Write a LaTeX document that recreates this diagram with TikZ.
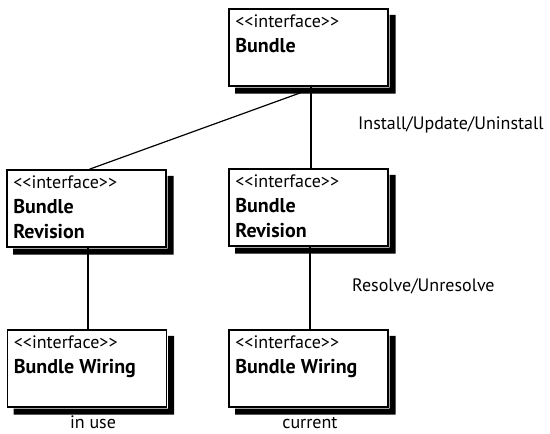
\documentclass[tikz,border=0pt]{standalone}
\usepackage{fontspec}
\setmainfont{PT Sans}
\newcommand{\bfbig}{\fontsize{20}{25}\selectfont\bfseries}
\begin{document}
\begin{tikzpicture}[x=1pt,y=1pt,
  ibox/.style={draw=black,line width=1.6pt,fill=white,rectangle,minimum width=159pt,minimum height=77pt,inner sep=0pt},
  shadefill/.style={fill=black,draw=none},
  itext/.style={anchor=north west,align=left,inner sep=0pt,font=\fontsize{18}{25}\selectfont},
  lbl/.style={font=\fontsize{18}{20}\selectfont,inner sep=0pt},
  conn/.style={line width=1.2pt}]
\useasboundingbox (0,0) rectangle (550,434);
% boxes
\node[ibox] (bundle) at (308.5,386.5) {};
\node[ibox] (lrev) at (86.5,225.5) {};
\node[ibox] (rrev) at (308.5,226.5) {};
\node[ibox] (lwir) at (87,65.5) {};
\node[ibox] (rwir) at (308.5,65.5) {};
% connectors
\draw[conn] ([xshift=-8pt,yshift=-6pt]bundle.south) -- ([xshift=3pt]lrev.north);
\draw[conn] ([xshift=2.5pt]bundle.south) -- ([xshift=2.5pt]rrev.north);
\draw[conn] ([xshift=1.5pt]lrev.south) -- ([xshift=1pt]lwir.north);
\draw[conn] ([xshift=1.5pt]rrev.south) -- ([xshift=1.5pt]rwir.north);
% shadows (L-shaped, right and bottom)
\foreach \b in {bundle,lrev,rrev,lwir,rwir}
  \fill[shadefill] ([shift={(6.8pt,-0.8pt)}]\b.south west) -- ([shift={(0.8pt,-0.8pt)}]\b.south east)
     -- ([shift={(0.8pt,-6.8pt)}]\b.north east) -- ([shift={(6.8pt,-6.8pt)}]\b.north east)
     -- ([shift={(6.8pt,-6.8pt)}]\b.south east) -- ([shift={(6.8pt,-6.8pt)}]\b.south west) -- cycle;
% texts
\node[itext] (bundleT) at ([xshift=7pt,yshift=-6pt]bundle.north west) {{<}{<}interface{>}{>}\\{\bfbig Bundle}};
\node[itext] (lrevT) at ([xshift=7pt,yshift=-6pt]lrev.north west) {{<}{<}interface{>}{>}\\{\bfbig Bundle}\\{\bfbig Revision}};
\node[itext] (rrevT) at ([xshift=7pt,yshift=-6pt]rrev.north west) {{<}{<}interface{>}{>}\\{\bfbig Bundle}\\{\bfbig Revision}};
\node[itext] (lwirT) at ([xshift=7pt,yshift=-6pt]lwir.north west) {{<}{<}interface{>}{>}\\{\bfbig Bundle Wiring}};
\node[itext] (rwirT) at ([xshift=7pt,yshift=-6pt]rwir.north west) {{<}{<}interface{>}{>}\\{\bfbig Bundle Wiring}};
\node[lbl,anchor=base west] (install) at (358,304) {Install/Update/Uninstall};
\node[lbl,anchor=base west] (resolve) at (352,142) {Resolve/Unresolve};
\node[lbl,anchor=base] (inuse) at (93,5) {in use};
\node[lbl,anchor=base] (current) at (310,5) {current};
\end{tikzpicture}
\end{document}
